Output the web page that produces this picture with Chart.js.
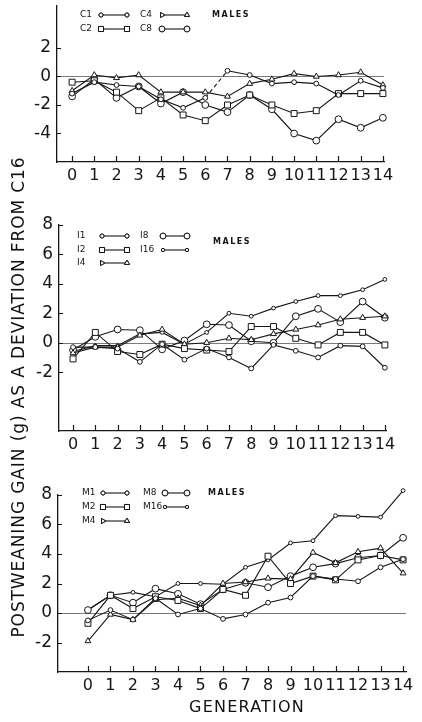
<!DOCTYPE html>
<html>
<head>
<meta charset="utf-8">
<script src="https://cdn.jsdelivr.net/npm/chart.js@4.4.1/dist/chart.umd.min.js"></script>
<style>
  body { margin: 0; background: #fff; }
  #wrap { position: relative; width: 422px; height: 722px; overflow: hidden; background: #fff; }
  canvas { position: absolute; left: 0; }
  .txt { position: absolute; font-family: "DejaVu Sans", sans-serif; color: #111; white-space: nowrap; }
  #ytitle { left: -232px; top: 387px; width: 500px; text-align: center; font-size: 17px; letter-spacing: 0.9px; transform: rotate(-90deg); }
  #xtitle { left: 147px; top: 697px; width: 200px; text-align: center; font-size: 16px; letter-spacing: 1.2px; }
</style>
</head>
<body>
<div id="wrap">
  <canvas id="c1" width="422" height="185" style="top:0px"></canvas>
  <canvas id="c2" width="422" height="256" style="top:200px"></canvas>
  <canvas id="c3" width="422" height="252" style="top:470px"></canvas>
  <div id="ytitle" class="txt">POSTWEANING GAIN (g) AS A DEVIATION FROM C16</div>
  <div id="xtitle" class="txt">GENERATION</div>
</div>
<script>
// Datos (generaciones 0..14)
const generations = [0, 1, 2, 3, 4, 5, 6, 7, 8, 9, 10, 11, 12, 13, 14];

// Panel C
const c1 = [-1.2, -0.4, -0.6, -0.7, -1.6, -2.2, -1.5, 0.4, 0.1, -0.5, -0.4, -0.5, -1.3, -0.3, -0.8];
const c2 = [-0.4, -0.3, -1.1, -2.4, -1.5, -2.7, -3.1, -2.0, -1.3, -2.0, -2.6, -2.4, -1.2, -1.2, -1.2];
const c4 = [-1.0, 0.1, -0.1, 0.1, -1.1, -1.1, -1.1, -1.4, -0.5, -0.2, 0.2, 0.0, 0.1, 0.3, -0.6];
const c8 = [-1.4, -0.2, -1.5, -0.7, -1.9, -1.1, -2.0, -2.5, -1.3, -2.3, -4.0, -4.5, -3.0, -3.6, -2.9];
const c1DashedFrom = 6; // tramo punteado 6 -> 7

// Panel I
const i1 = [-0.3, -0.3, -0.4, -1.3, -0.1, -1.15, -0.4, -1.0, -1.75, -0.15, -0.55, -1.0, -0.2, -0.25, -1.7];
const i2 = [-1.1, 0.7, -0.6, -0.8, -0.1, -0.4, -0.5, -0.6, 1.1, 1.1, 0.3, -0.15, 0.7, 0.7, -0.15];
const i4 = [-0.7, -0.3, -0.3, 0.5, 0.9, -0.1, 0.0, 0.3, 0.2, 0.6, 0.9, 1.2, 1.6, 1.7, 1.8];
const i8 = [-0.5, 0.4, 0.9, 0.85, -0.45, 0.15, 1.25, 1.2, 0.1, 0.0, 1.8, 2.3, 1.4, 2.8, 1.7];
const i16 = [-0.6, -0.2, -0.2, 0.6, 0.7, -0.1, 0.7, 2.0, 1.8, 2.35, 2.8, 3.2, 3.2, 3.6, 4.3];

// Panel M
const m1 = [-0.5, 0.2, -0.45, 1.0, -0.1, 0.3, -0.4, -0.1, 0.7, 1.05, 2.5, 2.3, 2.15, 3.1, 3.65];
const m2 = [-0.7, 1.2, 0.3, 1.1, 0.85, 0.3, 1.6, 1.2, 3.85, 2.0, 2.5, 2.25, 3.6, 3.9, 3.6];
const m4 = [-1.9, -0.1, -0.45, 0.9, 1.0, 0.5, 2.0, 2.1, 2.35, 2.3, 4.1, 3.4, 4.15, 4.4, 2.7];
const m8 = [0.2, 1.2, 0.7, 1.65, 1.3, 0.6, 1.6, 2.05, 1.75, 2.5, 3.1, 3.35, 3.75, 3.9, 5.1];
const m16 = [0.2, 1.2, 1.4, 1.1, 2.0, 2.0, 1.95, 3.1, 3.6, 4.75, 4.9, 6.6, 6.55, 6.5, 8.3];

// Etiquetas de los ejes
const yTicksC = [2, 0, -2, -4];
const yTicksI = [8, 6, 4, 2, 0, -2];
const yTicksM = [8, 6, 4, 2, 0, -2];
const xTickLabels = generations.map(String);

const INK = '#161616';

// estilos de marcador por tipo de línea
const estilos = {
    small:  { pointStyle: 'circle',   pointRadius: 2.4 },
    square: { pointStyle: 'rect',     pointRadius: 4.2 },
    tri:    { pointStyle: 'triangle', pointRadius: 3.4 },
    big:    { pointStyle: 'circle',   pointRadius: 3.4 },
    dot:    { pointStyle: 'circle',   pointRadius: 1.9 }
};

function serie(label, values, tipo, extra) {
    return Object.assign({
        label: label,
        data: values.map((v, i) => ({ x: generations[i], y: v })),
        borderColor: INK,
        borderWidth: 1.1,
        pointBackgroundColor: '#fff',
        pointBorderColor: INK,
        pointBorderWidth: 1,
        clip: false,
        tension: 0
    }, estilos[tipo], extra || {});
}

// línea de cero, marcas interiores y leyenda propia
const panelDecor = {
    id: 'panelDecor',
    beforeDatasetsDraw(chart, args, opts) {
        const { ctx, chartArea: a, scales: { x, y } } = chart;
        ctx.save();
        ctx.strokeStyle = '#7a7a7a';
        ctx.lineWidth = 1;
        const y0 = Math.round(y.getPixelForValue(0)) + 0.5;
        ctx.beginPath();
        ctx.moveTo(a.left, y0);
        ctx.lineTo(a.right, y0);
        ctx.stroke();
        ctx.restore();
    },
    afterDraw(chart, args, opts) {
        const { ctx, chartArea: a, scales: { x, y } } = chart;
        ctx.save();
        ctx.strokeStyle = INK;
        ctx.lineWidth = 1.2;
        ctx.beginPath();
        generations.forEach(g => {
            const px = Math.round(x.getPixelForValue(g)) + 0.5;
            ctx.moveTo(px, a.bottom);
            ctx.lineTo(px, a.bottom - 6);
        });
        opts.yTicks.forEach(v => {
            const py = Math.round(y.getPixelForValue(v)) + 0.5;
            ctx.moveTo(a.left, py);
            ctx.lineTo(a.left + 4, py);
        });
        ctx.stroke();

        // leyenda
        ctx.font = '9px "DejaVu Sans", sans-serif';
        ctx.fillStyle = INK;
        ctx.textBaseline = 'middle';
        chart.data.datasets.forEach((ds, i) => {
            const col = Math.floor(i / opts.rows);
            const row = i % opts.rows;
            const ty = opts.rowY[row];
            ctx.fillText(ds.label, opts.textX[col], ty);
            const [s0, s1] = opts.symX[col];
            ctx.beginPath();
            ctx.moveTo(s0, ty);
            ctx.lineTo(s1, ty);
            ctx.lineWidth = 1.1;
            ctx.stroke();
            ctx.fillStyle = '#fff';
            ctx.lineWidth = 1;
            const p = { pointStyle: ds.pointStyle, radius: ds.pointRadius * 0.85, rotation: 0, borderWidth: 1 };
            Chart.helpers.drawPoint(ctx, Object.assign({}, p, { rotation: ds.pointStyle === 'triangle' ? 90 : 0 }), s0, ty);
            ctx.fill();
            ctx.stroke();
            Chart.helpers.drawPoint(ctx, p, s1, ty);
            ctx.fill();
            ctx.stroke();
            ctx.fillStyle = INK;
        });
        ctx.font = 'bold 8px "DejaVu Sans", sans-serif';
        ctx.letterSpacing = '1.5px';
        ctx.fillText('MALES', opts.malesX, opts.malesY);
        ctx.restore();
    }
};

function crearPanel(id, datasets, cfg) {
    return new Chart(document.getElementById(id), {
        type: 'line',
        data: { datasets: datasets },
        plugins: [panelDecor],
        options: {
            responsive: false,
            animation: false,
            layout: { padding: { left: 0, top: cfg.padTop, right: cfg.padRight, bottom: 0 } },
            plugins: {
                legend: { display: false },
                tooltip: { enabled: false },
                panelDecor: cfg.legend
            },
            scales: {
                x: {
                    type: 'linear',
                    min: cfg.xMin,
                    max: cfg.xMax,
                    afterBuildTicks: s => { s.ticks = generations.map(v => ({ value: v })); },
                    afterFit: s => { s.height = cfg.xHeight; s.paddingLeft = 0; s.paddingRight = 0; },
                    ticks: {
                        autoSkip: false,
                        maxRotation: 0,
                        padding: 4,
                        color: INK,
                        font: { family: '"DejaVu Sans", sans-serif', size: 16 },
                        callback: v => xTickLabels[generations.indexOf(v)]
                    },
                    grid: { display: false, drawTicks: false },
                    border: { display: true, color: INK, width: 1.3 }
                },
                y: {
                    min: cfg.yMin,
                    max: cfg.yMax,
                    afterBuildTicks: s => { s.ticks = cfg.yTicks.map(v => ({ value: v })); },
                    afterFit: s => { s.width = cfg.yWidth; s.paddingTop = 0; s.paddingBottom = 0; },
                    ticks: {
                        padding: 6,
                        color: INK,
                        font: { family: '"DejaVu Sans", sans-serif', size: 17 }
                    },
                    grid: { display: false, drawTicks: false },
                    border: { display: true, color: INK, width: 1.3 }
                }
            }
        }
    });
}

crearPanel('c1', [
    serie('C1', c1, 'small', { segment: { borderDash: ctx => ctx.p0DataIndex === c1DashedFrom ? [4, 3] : undefined } }),
    serie('C2', c2, 'square'),
    serie('C4', c4, 'tri'),
    serie('C8', c8, 'big')
], {
    padTop: 0, padRight: 38, xHeight: 23, yWidth: 57,
    xMin: -0.68, xMax: 14.05, yMin: -6, yMax: 5, yTicks: yTicksC,
    legend: { yTicks: yTicksC, rows: 2, rowY: [15, 29], textX: [80, 140], symX: [[101, 127], [162, 187]], malesX: 212, malesY: 15 }
});

crearPanel('c2', [
    serie('I1', i1, 'small'),
    serie('I2', i2, 'square'),
    serie('I4', i4, 'tri'),
    serie('I8', i8, 'big'),
    serie('I16', i16, 'dot')
], {
    padTop: 25, padRight: 36, xHeight: 25, yWidth: 59,
    xMin: -0.63, xMax: 14.05, yMin: -6, yMax: 8, yTicks: yTicksI,
    legend: { yTicks: yTicksI, rows: 3, rowY: [36, 50, 63], textX: [77, 140], symX: [[102, 127], [163, 187]], malesX: 213, malesY: 42 }
});

crearPanel('c3', [
    serie('M1', m1, 'small'),
    serie('M2', m2, 'square'),
    serie('M4', m4, 'tri'),
    serie('M8', m8, 'big'),
    serie('M16', m16, 'dot')
], {
    padTop: 25, padRight: 16, xHeight: 50, yWidth: 58,
    xMin: -1.33, xMax: 14.13, yMin: -4, yMax: 8, yTicks: yTicksM,
    legend: { yTicks: yTicksM, rows: 3, rowY: [23, 37, 51], textX: [82, 143], symX: [[103, 127], [165, 187]], malesX: 208, malesY: 23 }
});
</script>
</body>
</html>
